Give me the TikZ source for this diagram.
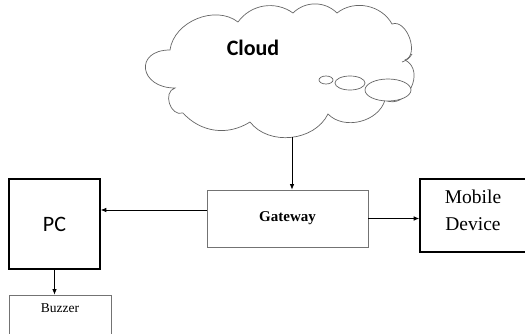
\documentclass[tikz,border=0pt]{standalone}
\usepackage{fontspec}
\setmainfont{Liberation Serif}
\newfontfamily\calib{Carlito}
\usetikzlibrary{arrows.meta}
\tikzset{
  thickbox/.style={draw=black,line width=1.6pt,inner sep=0pt},
  thinbox/.style={draw=black!55,line width=0.8pt,inner sep=0pt},
  conn/.style={draw=black,line width=0.7pt,-{Latex[length=5.5pt,width=4.5pt]}},
  cloudline/.style={draw=black!60,line width=0.7pt}
}
\begin{document}
\begin{tikzpicture}[x=1pt,y=-1pt]
\clip (0,0) rectangle (525,334);
\fill[white] (0,0) rectangle (525,334);
% cloud outline
\draw[cloudline,fill=white]
  (175,88) to[out=180,in=180,looseness=2.4] (170,50)
  to[bend left=60] (238,22)
  to[bend left=45] (293,13)
  to[bend left=45] (337,13)
  to[bend left=50] (392,24)
  to[bend left=90,looseness=1.05] (405,60)
  to[bend left=90,looseness=1.36] (385,100)
  to[bend left=60] (328,114)
  to[bend left=58] (250,122)
  to[bend left=40] (183,113)
  to[bend left=90,looseness=1.3] cycle;
\draw[cloudline] (402,62) to[bend right=20] (412,54);
\draw[cloudline] (326,80) ellipse[x radius=7,y radius=4];
\draw[cloudline] (350,83) ellipse[x radius=15,y radius=7];
\draw[cloudline,fill=white] (388,90) ellipse[x radius=23,y radius=11];
\node (cloudtxt) at (253,48) {\calib\bfseries\fontsize{22}{26}\selectfont Cloud};
\coordinate (cb) at (292,137);
% boxes
\node[thinbox,minimum width=161pt,minimum height=57pt] (gw) at (287.5,218.5)
  {\bfseries\fontsize{15}{17}\selectfont Gateway};
\node[thickbox,minimum width=91pt,minimum height=90pt] (pc) at (54.5,224)
  {\calib\fontsize{22}{26}\selectfont PC};
\node[thickbox,minimum width=112pt,minimum height=73pt] (mob) at (476,215.5) {};
\node[align=center,font=\fontsize{19.5}{27}\selectfont] (mobtxt) at (473,210) {Mobile\\Device};
\node[thinbox,minimum width=102pt,minimum height=50pt] (bz) at (60,320) {};
\node[font=\fontsize{13.5}{16}\selectfont] (bztxt) at (60,308) {Buzzer};
% connectors
\draw[conn] (cb) -- (cb |- gw.north);
\draw[conn] ([yshift=8.5pt]gw.west) coordinate (g1) -- (g1 -| pc.east);
\draw[conn] (gw.east) -- (gw.east -| mob.west);
\draw[conn] (pc.south) -- (pc.south |- bz.north);
\end{tikzpicture}
\end{document}
